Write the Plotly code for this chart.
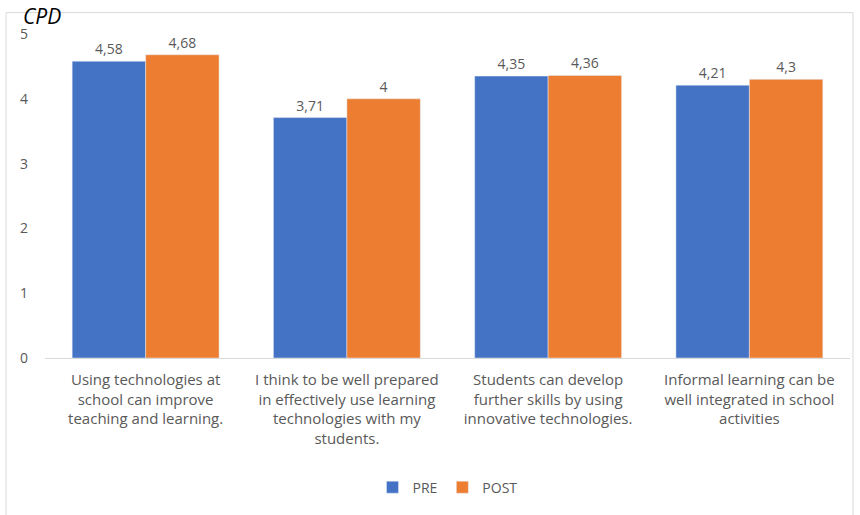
import plotly.graph_objects as go

categories = [
    "Using technologies at<br>school can improve<br>teaching and learning.",
    "I think to be well prepared<br>in effectively use learning<br>technologies with my<br>students.",
    "Students can develop<br>further skills by using<br>innovative technologies.",
    "Informal learning can be<br>well integrated in school<br>activities",
]
pre_values = [4.58, 3.71, 4.35, 4.21]
post_values = [4.68, 4.00, 4.36, 4.30]
y_ticks = [0, 1, 2, 3, 4, 5]


def fmt(v):
    s = f"{v:.2f}".rstrip("0").rstrip(".")
    return s.replace(".", ",")


FONT = "Open Sans"
fig = go.Figure()
fig.add_trace(go.Bar(
    name="PRE", x=categories, y=pre_values, marker_color="#4472C4",
    text=[fmt(v) for v in pre_values], textposition="outside",
    textfont=dict(size=14, color="#595959", family=FONT), cliponaxis=False,
))
fig.add_trace(go.Bar(
    name="POST", x=categories, y=post_values, marker_color="#ED7D31",
    text=[fmt(v) for v in post_values], textposition="outside",
    textfont=dict(size=14, color="#595959", family=FONT), cliponaxis=False,
))

fig.update_layout(
    width=860, height=515,
    margin=dict(l=45, r=10, t=34, b=157),
    paper_bgcolor="white", plot_bgcolor="white",
    barmode="group", bargap=0.27, bargroupgap=0,
    font=dict(family=FONT, size=14, color="#595959"),
    showlegend=True,
    legend=dict(orientation="h", x=0.5, xanchor="center", y=-0.40, yanchor="middle",
                font=dict(size=14, color="#595959"), itemwidth=30, traceorder="normal"),
    xaxis=dict(showline=True, linecolor="#D9D9D9", linewidth=1, ticks="",
               tickfont=dict(size=15, color="#595959"), showgrid=False,
               ticklabelstandoff=8),
    yaxis=dict(range=[0, 5], tickvals=y_ticks, showgrid=False, zeroline=False,
               showline=False, ticks="", ticklabelstandoff=16,
               tickfont=dict(size=14, color="#595959")),
    shapes=[dict(type="rect", xref="paper", yref="paper",
                 x0=-0.0484, x1=1.0037, y0=-0.6, y1=1.066,
                 line=dict(color="#D9D9D9", width=1), fillcolor="rgba(0,0,0,0)", layer="below")],
    annotations=[dict(text="<i>CPD</i>", xref="paper", yref="paper", x=-0.03, y=1.057,
                      xanchor="left", yanchor="middle", showarrow=False,
                      font=dict(size=21, color="black", family=FONT))],
)

fig.write_html("out.html")
